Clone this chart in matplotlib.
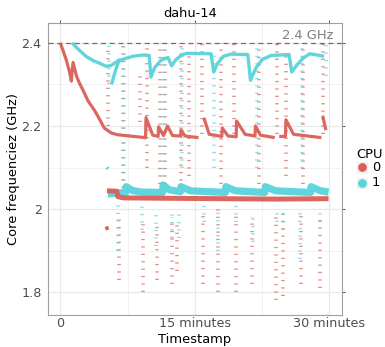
import numpy as np
import matplotlib
matplotlib.use("Agg")
import matplotlib.pyplot as plt
from matplotlib.patches import Rectangle
from matplotlib.lines import Line2D

nan = np.nan

# ---- data (time in minutes, frequency in GHz) ----
cpu_labels = ["0", "1"]
cpu_colors = ["#db5f57", "#57d3db"]

# CPU 0: upper frequency track (nan splits segments)
cpu0_top_t = [0.0, 0.65, 1.05, 1.23, 1.3, 1.42, 1.8, 2.2, 2.4, 3.1, 3.8, 4.2, 4.9, 5.7, 6.4, 9.5,
              9.55, 10.3, 10.9, 10.95, 11.5, 11.95, 12.5, 13.4, 13.45, 13.9, 15.4, nan,
              16.0, 16.6, 18.0, 18.05, 18.7, 19.6, 19.65, 20.6, 21.7, 21.75, 22.3, 23.9, nan,
              24.4, 25.1, 25.15, 26.0, 29.1, nan,
              29.25, 29.6]
cpu0_top_f = [2.400, 2.360, 2.328, 2.308, 2.330, 2.353, 2.320, 2.300, 2.292, 2.260, 2.238, 2.223, 2.195, 2.183, 2.179, 2.172,
              2.220, 2.178, 2.175, 2.198, 2.177, 2.200, 2.177, 2.176, 2.190, 2.176, 2.172, nan,
              2.220, 2.180, 2.175, 2.195, 2.176, 2.174, 2.212, 2.180, 2.176, 2.200, 2.178, 2.172, nan,
              2.175, 2.175, 2.215, 2.180, 2.172, nan,
              2.225, 2.190]

# CPU 0: lower frequency band
cpu0_low_t = [5.2, 6.3, 6.4, 7.0, 12.0, 18.0, 24.0, 29.9]
cpu0_low_f = [2.044, 2.043, 2.030, 2.027, 2.026, 2.025, 2.024, 2.025]

# CPU 1: upper frequency track
cpu1_top_t = [1.3, 2.0, 2.9, 3.7, 4.4, 5.1, 5.6, 6.3, 7.0, 8.1, 9.3, 9.9, 10.1, 10.5, 11.2, 12.0, 12.4,
              12.9, 13.6, 14.1, 16.8, 17.1, 17.5, 18.2, 19.0, 20.9, 21.2, 21.8, 22.5, 23.5, 25.5,
              25.8, 26.3, 27.0, 27.8, 29.4, nan,
              5.7, 6.1, 6.6]
cpu1_top_f = [2.400, 2.385, 2.367, 2.357, 2.351, 2.344, 2.345, 2.355, 2.361, 2.368, 2.371, 2.370, 2.318, 2.340, 2.358, 2.365, 2.345,
              2.360, 2.372, 2.375, 2.374, 2.330, 2.350, 2.368, 2.373, 2.372, 2.310, 2.340, 2.360, 2.370, 2.372,
              2.330, 2.345, 2.362, 2.374, 2.368, nan,
              2.300, 2.330, 2.362]

# CPU 1: lower frequency band
cpu1_low_t = [5.3, 6.0, 7.3, 7.35, 8.0, 9.0, 11.4, 11.45, 12.2, 13.4, 13.45, 14.5, 18.4, 18.45, 19.5,
              22.8, 22.85, 24.0, 27.9, 27.95, 29.0, 29.9]
cpu1_low_f = [2.036, 2.038, 2.040, 2.054, 2.045, 2.041, 2.040, 2.058, 2.046, 2.042, 2.054, 2.044, 2.040, 2.054, 2.044,
              2.040, 2.054, 2.044, 2.040, 2.054, 2.044, 2.041]

# scattered bursts: time, lowest and highest frequency reached
cpu0_burst_t = [5.3, 6.5, 7.0, 8.9, 9.2, 9.7, 10.8, 11.1, 11.7, 12.4, 13.0, 13.5, 14.3, 15.9, 15.8,
                17.6, 17.9, 19.6, 19.4, 21.4, 22.1, 24.0, 24.1, 24.8, 25.2, 26.8, 27.0, 29.0, 29.3]
cpu0_burst_lo = [2.20, 1.83, 2.05, 2.21, 1.80, 2.10, 1.83, 2.06, 2.06, 1.82, 1.85, 2.05, 2.08, 1.82, 2.18,
                 1.80, 2.06, 1.80, 2.18, 1.82, 2.06, 1.78, 2.18, 1.79, 2.08, 1.82, 2.06, 1.81, 2.18]
cpu0_burst_hi = [2.39, 1.99, 2.40, 2.32, 1.97, 2.40, 1.97, 2.40, 2.40, 1.98, 1.97, 2.40, 2.38, 1.99, 2.40,
                 2.00, 2.40, 1.99, 2.40, 1.98, 2.40, 1.99, 2.40, 1.99, 2.38, 1.99, 2.40, 1.98, 2.40]

cpu1_burst_t = [5.4, 6.4, 7.1, 9.1, 10.7, 11.4, 12.5, 13.2, 13.6, 16.0, 17.6, 17.1, 19.6, 21.5, 21.9,
                24.2, 24.8, 26.7, 26.9, 29.0, 29.6]
cpu1_burst_lo = [2.30, 1.90, 2.05, 1.95, 1.91, 2.06, 1.93, 1.93, 2.10, 1.97, 1.90, 2.10, 1.97, 1.92, 2.10,
                 1.97, 1.95, 1.88, 2.10, 1.97, 2.32]
cpu1_burst_hi = [2.40, 2.01, 2.40, 2.01, 2.00, 2.40, 2.00, 2.00, 2.40, 2.01, 2.00, 2.38, 2.01, 1.99, 2.40,
                 2.00, 2.00, 2.00, 2.40, 2.00, 2.40]

# isolated clusters
cpu0_blob_t = [5.12, 5.28]
cpu0_blob_f = [1.958, 1.950]
cpu1_blob_t = [5.18, 5.30]
cpu1_blob_f = [2.100, 2.097]

x_ticks = [0, 15, 30]
x_tick_labels = ["0", "15 minutes", "30 minutes"]
y_ticks = [1.8, 2.0, 2.2, 2.4]
y_tick_labels = ["1.8", "2", "2.2", "2.4"]
ref_freq = 2.4
ref_label = "2.4 GHz"

# ---- figure ----
W, H = 385, 347
fig = plt.figure(figsize=(W / 100, H / 100), dpi=100)
fig.patch.set_facecolor("white")
L, R, T, B = 48.5, 342, 23, 315
ax = fig.add_axes([L / W, 1 - B / H, (R - L) / W, (B - T) / H])
ax.set_xlim(-1.32, 31.4)
ax.set_ylim(1.745, 2.448)

# grid
for v in [7.5, 22.5]:
    ax.axvline(v, color="#f0f0f0", lw=0.6, zorder=0)
for v in [1.9, 2.1, 2.3]:
    ax.axhline(v, color="#f0f0f0", lw=0.6, zorder=0)
for v in x_ticks:
    ax.axvline(v, color="#e8e8e8", lw=0.9, zorder=0)
for v in y_ticks:
    ax.axhline(v, color="#e8e8e8", lw=0.9, zorder=0)

c0, c1 = cpu_colors
burst_style = dict(linestyles=[(0, (0.35, 1.7))], linewidth=2.6, alpha=0.7, capstyle="butt")
ax.vlines(cpu0_burst_t, cpu0_burst_lo, cpu0_burst_hi, colors=c0, zorder=2, **burst_style)
ax.vlines(cpu1_burst_t, cpu1_burst_lo, cpu1_burst_hi, colors=c1, zorder=2, **burst_style)

ax.plot(cpu1_low_t, cpu1_low_f, color=c1, lw=5.2, alpha=0.95, solid_capstyle="butt", zorder=3)
ax.plot(cpu0_low_t, cpu0_low_f, color=c0, lw=3.6, alpha=0.95, solid_capstyle="butt", zorder=4)
ax.plot(cpu1_top_t, cpu1_top_f, color=c1, lw=2.4, alpha=0.95, solid_capstyle="butt", zorder=3)
ax.plot(cpu0_top_t, cpu0_top_f, color=c0, lw=2.3, alpha=0.95, solid_capstyle="butt", zorder=4)
ax.plot(cpu0_blob_t, cpu0_blob_f, color=c0, lw=2.6, solid_capstyle="butt", zorder=4)
ax.plot(cpu1_blob_t, cpu1_blob_f, color=c1, lw=2.6, solid_capstyle="butt", zorder=4)

# reference frequency
ax.axhline(ref_freq, color="#6e6e6e", lw=0.9, ls=(0, (4, 3)), zorder=5)
ax.text(30.4, ref_freq + 0.002, ref_label, ha="right", va="bottom", fontsize=9.4, color="#808080")

# axes styling
for s in ax.spines.values():
    s.set_color("#a0a0a0")
    s.set_linewidth(0.8)
ax.set_xticks(x_ticks)
ax.set_xticklabels(x_tick_labels)
ax.set_yticks(y_ticks)
ax.set_yticklabels(y_tick_labels)
ax.tick_params(axis="both", labelsize=9.2, labelcolor="#4d4d4d", color="#333333", length=2.5, width=0.6)
ax.tick_params(axis="x", bottom=False, top=True, pad=-1.0)
ax.tick_params(axis="y", left=False, right=True, pad=2.4)
ax.set_xlabel("Timestamp", fontsize=9.4, color="black")
ax.set_ylabel("Core frequenciez (GHz)", fontsize=9.4, color="black")
ax.xaxis.set_label_coords((195 - L) / (R - L), -(333 - B) / (B - T))
ax.yaxis.set_label_coords((20.5 - L) / (R - L), 0.5)

fig.text(190.5 / W, 1 - 17 / H, "dahu-14", ha="center", va="baseline", fontsize=9.4, color="black")

# legend
fig.text(356 / W, 1 - 154 / H, "CPU", ha="left", va="center", fontsize=9.4, color="black")
for i, (lab, col) in enumerate(zip(cpu_labels, cpu_colors)):
    cy = 167.5 + 15 * i
    fig.add_artist(Rectangle(((355.7) / W, 1 - (cy + 6) / H), 12.5 / W, 12 / H,
                             transform=fig.transFigure, facecolor="#f2f2f2", edgecolor="white", lw=0.5))
    fig.add_artist(Line2D([362 / W], [1 - cy / H], marker="o", markersize=5.3, color=col,
                          transform=fig.transFigure, linestyle="none"))
    fig.text(372 / W, 1 - cy / H, lab, ha="left", va="center", fontsize=9.4, color="black")

fig.savefig("out.png", dpi=100)
